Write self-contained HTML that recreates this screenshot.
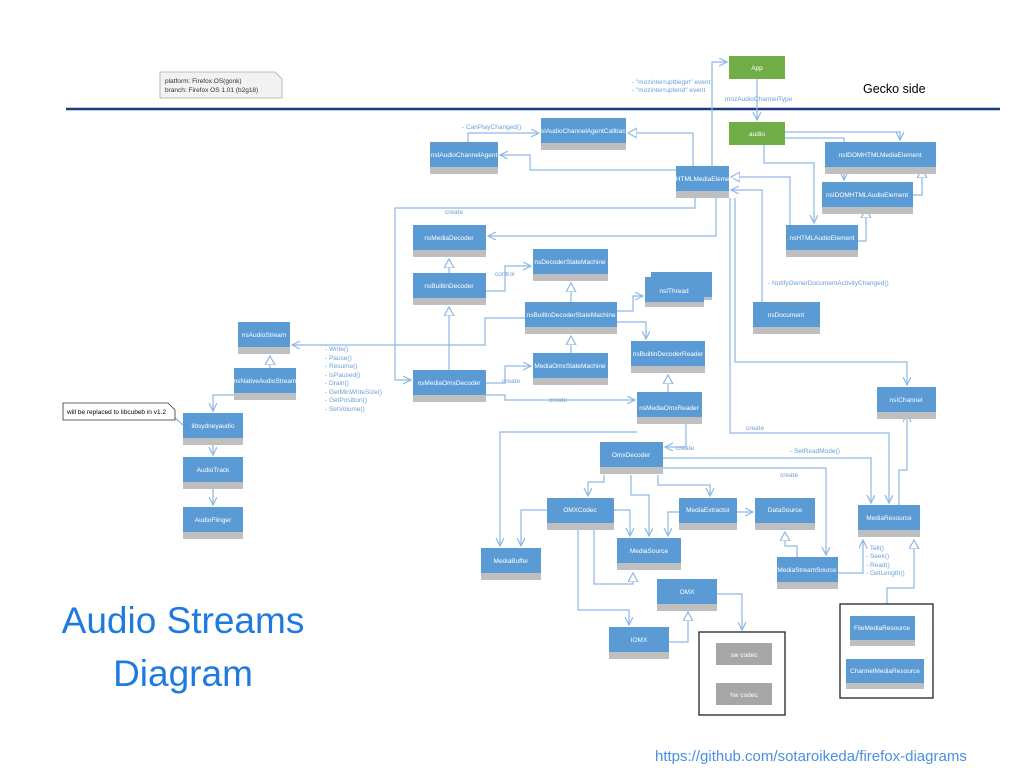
<!DOCTYPE html>
<html><head><meta charset="utf-8"><style>
body{margin:0;background:#fff;}
svg{display:block;font-family:"Liberation Sans",sans-serif;}
.b{fill:#5b9bd5;}
.g{fill:#bfbfbf;}
.t{fill:#fff;font-size:6.5px;text-anchor:middle;}
.l{fill:none;stroke:#8db8e6;stroke-width:1.2;}
.lb{fill:#6a9fd8;font-size:6.5px;}
</style></head><body>
<svg width="1024" height="768" viewBox="0 0 1024 768">
<defs>
<marker id="a" markerWidth="10" markerHeight="10" refX="8" refY="4" orient="auto" markerUnits="userSpaceOnUse"><path d="M0,0 L8,4 L0,8" fill="none" stroke="#8db8e6" stroke-width="1.2"/></marker>
<marker id="h" markerWidth="12" markerHeight="12" refX="9" refY="5" orient="auto" markerUnits="userSpaceOnUse"><path d="M0,0 L9,5 L0,10 Z" fill="#fff" stroke="#8db8e6" stroke-width="1.2"/></marker>
</defs>
<!-- note -->
<path d="M160,72 H275 L282,79 V98 H160 Z" fill="#f2f2f2" stroke="#aaa" stroke-width="0.8"/>
<text x="165" y="83" font-size="6.5" fill="#333">platform: Firefox OS(gonk)</text>
<text x="165" y="92" font-size="6.5" fill="#333">branch: Firefox OS 1.01 (b2g18)</text>
<line x1="66" y1="109" x2="1000" y2="109" stroke="#1f3b80" stroke-width="2.5"/>
<text x="863" y="93" font-size="12.5" fill="#000">Gecko side</text>

<!-- connectors -->
<g class="l">
<polyline points="712,166 712,62 727,62" marker-end="url(#a)"/>
<polyline points="757,79 757,120" marker-end="url(#a)"/>
<polyline points="468,142 468,133 539,133" marker-end="url(#a)"/>
<polyline points="693,166 693,133 628,133" marker-end="url(#h)"/>
<polyline points="676,170 530,170 530,155 500,155" marker-end="url(#a)"/>
<polyline points="785,132 900,132 900,140" marker-end="url(#a)"/>
<polyline points="785,138 844,138 844,180" marker-end="url(#a)"/>
<polyline points="764,145 764,163 814,163 814,223" marker-end="url(#a)"/>
<polyline points="913,195 922,195 922,169" marker-end="url(#h)"/>
<polyline points="858,241 866,241 866,209" marker-end="url(#h)"/>
<polyline points="790,225 790,177 731,177" marker-end="url(#h)"/>
<polyline points="762,302 762,190 731,190" marker-end="url(#a)"/>
<polyline points="735,198 735,362 907,362 907,385" marker-end="url(#a)"/>
<polyline points="730,198 730,433 889,433 889,503" marker-end="url(#a)"/>
<polyline points="716,198 716,236 488,236" marker-end="url(#a)"/>
<polyline points="695,198 695,208 395,208 395,380 411,380" marker-end="url(#a)"/>
<polyline points="449,273 449,259" marker-end="url(#h)"/>
<polyline points="449,370 449,307" marker-end="url(#h)"/>
<polyline points="486,291 505,291 505,266 531,266" marker-end="url(#a)"/>
<polyline points="571,302 571,283" marker-end="url(#h)"/>
<polyline points="571,353 571,336" marker-end="url(#h)"/>
<polyline points="617,311 633,311 633,296 643,296" marker-end="url(#a)"/>
<polyline points="617,322 646,322 646,339" marker-end="url(#a)"/>
<polyline points="668,392 668,375" marker-end="url(#h)"/>
<polyline points="525,318 485,318 485,345 292,345" marker-end="url(#a)"/>
<polyline points="486,383 505,383 505,366 531,366" marker-end="url(#a)"/>
<polyline points="486,395 505,395 505,400 635,400" marker-end="url(#a)"/>
<polyline points="270,368 270,356" marker-end="url(#h)"/>
<polyline points="234,395 213,395 213,411" marker-end="url(#a)"/>
<polyline points="213,445 213,455" marker-end="url(#a)"/>
<polyline points="213,489 213,505" marker-end="url(#a)"/>
<polyline points="175,418 183,425"/>
<polyline points="637,432 500,432 500,546" marker-end="url(#a)"/>
<polyline points="686,424 686,447 665,447" marker-end="url(#a)"/>
<polyline points="663,458 871,458 871,503" marker-end="url(#a)"/>
<polyline points="663,468 826,468 826,555" marker-end="url(#a)"/>
<polyline points="899,505 899,470 907,470 907,414" marker-end="url(#a)"/>
<polyline points="604,475 604,482 588,482 588,496" marker-end="url(#a)"/>
<polyline points="631,475 631,495 649,495 649,536" marker-end="url(#a)"/>
<polyline points="658,475 658,485 710,485 710,496" marker-end="url(#a)"/>
<polyline points="547,510 521,510 521,546" marker-end="url(#a)"/>
<polyline points="614,510 630,510 630,536" marker-end="url(#a)"/>
<polyline points="679,512 668,512 668,536" marker-end="url(#a)"/>
<polyline points="737,512 753,512" marker-end="url(#a)"/>
<polyline points="594,530 594,584 633,584 633,573" marker-end="url(#h)"/>
<polyline points="578,530 578,610 629,610 629,625" marker-end="url(#a)"/>
<polyline points="669,642 688,642 688,612" marker-end="url(#h)"/>
<polyline points="717,594 742,594 742,630" marker-end="url(#a)"/>
<polyline points="797,557 797,546 785,546 785,532" marker-end="url(#h)"/>
<polyline points="838,573 863,573 863,540" marker-end="url(#a)"/>
<polyline points="887,604 887,588 914,588 914,540" marker-end="url(#h)"/>
</g>

<!-- labels -->
<g class="lb">
<text x="632" y="84">- "mozinterruptbegin" event</text>
<text x="632" y="92">- "mozinterruptend" event</text>
<text x="725" y="101">mozAudioChannelType</text>
<text x="462" y="129">- CanPlayChanged()</text>
<text x="445" y="214">create</text>
<text x="495" y="276">control</text>
<text x="768" y="285">- NotifyOwnerDocumentActivityChanged()</text>
<text x="502" y="383">create</text>
<text x="549" y="402">create</text>
<text x="676" y="450">create</text>
<text x="746" y="430">create</text>
<text x="790" y="453">- SetReadMode()</text>
<text x="780" y="477">create</text>
<text x="325" y="351">- Write()</text>
<text x="325" y="360">- Pause()</text>
<text x="325" y="368">- Resume()</text>
<text x="325" y="377">- IsPaused()</text>
<text x="325" y="385">- Drain()</text>
<text x="325" y="394">- GetMinWriteSize()</text>
<text x="325" y="402">- GetPosition()</text>
<text x="325" y="411">- SetVolume()</text>
<text x="866" y="550">- Tell()</text>
<text x="866" y="558">- Seek()</text>
<text x="866" y="567">- Read()</text>
<text x="866" y="575">- GetLength()</text>
</g>

<!-- note2 -->
<path d="M63,403 H168 L175,410 V420 H63 Z" fill="#fff" stroke="#333" stroke-width="0.8"/>
<text x="67" y="414" font-size="6.5" fill="#000">will be replaced to libcubeb in v1.2</text>

<!-- green -->
<rect x="729" y="56" width="56" height="23" fill="#70ad47"/><text class="t" x="757" y="70">App</text>
<rect x="729" y="122" width="56" height="23" fill="#70ad47"/><text class="t" x="757" y="136">audio</text>

<!-- boxes -->
<g>
<rect class="g" x="651" y="280" width="61" height="20"/><rect class="b" x="651" y="272" width="61" height="25"/>
</g>
<g id="boxes">
<rect class="b" x="541" y="118" width="85" height="25"/><rect class="g" x="541" y="143" width="85" height="7"/><text class="t" x="583" y="133">nsIAudioChannelAgentCallback</text>
<rect class="b" x="430" y="142" width="68" height="25"/><rect class="g" x="430" y="167" width="68" height="7"/><text class="t" x="464" y="157">nsIAudioChannelAgent</text>
<rect class="b" x="676" y="166" width="53" height="25"/><rect class="g" x="676" y="191" width="53" height="7"/><text class="t" x="702" y="181">nsHTMLMediaElement</text>
<rect class="b" x="825" y="142" width="111" height="25"/><rect class="g" x="825" y="167" width="111" height="7"/><text class="t" x="880" y="157">nsIDOMHTMLMediaElement</text>
<rect class="b" x="822" y="182" width="91" height="25"/><rect class="g" x="822" y="207" width="91" height="7"/><text class="t" x="867" y="197">nsIDOMHTMLAudioElement</text>
<rect class="b" x="786" y="225" width="72" height="25"/><rect class="g" x="786" y="250" width="72" height="7"/><text class="t" x="822" y="240">nsHTMLAudioElement</text>
<rect class="b" x="413" y="225" width="73" height="25"/><rect class="g" x="413" y="250" width="73" height="7"/><text class="t" x="449" y="240">nsMediaDecoder</text>
<rect class="b" x="533" y="249" width="75" height="25"/><rect class="g" x="533" y="274" width="75" height="7"/><text class="t" x="570" y="264">nsDecoderStateMachine</text>
<rect class="b" x="413" y="273" width="73" height="25"/><rect class="g" x="413" y="298" width="73" height="7"/><text class="t" x="449" y="288">nsBuiltinDecoder</text>
<rect class="b" x="645" y="277" width="59" height="25"/><rect class="g" x="645" y="302" width="59" height="5"/><text class="t" x="674" y="293">nsIThread</text>
<rect class="b" x="525" y="302" width="92" height="25"/><rect class="g" x="525" y="327" width="92" height="7"/><text class="t" x="571" y="317">nsBuiltinDecoderStateMachine</text>
<rect class="b" x="753" y="302" width="67" height="25"/><rect class="g" x="753" y="327" width="67" height="7"/><text class="t" x="786" y="317">nsDocument</text>
<rect class="b" x="238" y="322" width="52" height="25"/><rect class="g" x="238" y="347" width="52" height="7"/><text class="t" x="264" y="337">nsAudioStream</text>
<rect class="b" x="631" y="341" width="74" height="25"/><rect class="g" x="631" y="366" width="74" height="7"/><text class="t" x="668" y="356">nsBuiltinDecoderReader</text>
<rect class="b" x="234" y="368" width="62" height="25"/><rect class="g" x="234" y="393" width="62" height="7"/><text class="t" x="265" y="383">nsNativeAudioStream</text>
<rect class="b" x="533" y="353" width="75" height="25"/><rect class="g" x="533" y="378" width="75" height="7"/><text class="t" x="570" y="368">MediaOmxStateMachine</text>
<rect class="b" x="413" y="370" width="73" height="25"/><rect class="g" x="413" y="395" width="73" height="7"/><text class="t" x="449" y="385">nsMediaOmxDecoder</text>
<rect class="b" x="637" y="392" width="65" height="25"/><rect class="g" x="637" y="417" width="65" height="7"/><text class="t" x="669" y="410">nsMediaOmxReader</text>
<rect class="b" x="877" y="387" width="59" height="25"/><rect class="g" x="877" y="412" width="59" height="7"/><text class="t" x="906" y="402">nsIChannel</text>
<rect class="b" x="183" y="413" width="60" height="25"/><rect class="g" x="183" y="438" width="60" height="7"/><text class="t" x="213" y="428">libsydneyaudio</text>
<rect class="b" x="600" y="442" width="63" height="25"/><rect class="g" x="600" y="467" width="63" height="7"/><text class="t" x="631" y="457">OmxDecoder</text>
<rect class="b" x="183" y="457" width="60" height="25"/><rect class="g" x="183" y="482" width="60" height="7"/><text class="t" x="213" y="472">AudioTrack</text>
<rect class="b" x="547" y="498" width="67" height="25"/><rect class="g" x="547" y="523" width="67" height="7"/><text class="t" x="580" y="512">OMXCodec</text>
<rect class="b" x="679" y="498" width="58" height="25"/><rect class="g" x="679" y="523" width="58" height="7"/><text class="t" x="708" y="512">MediaExtractor</text>
<rect class="b" x="755" y="498" width="60" height="25"/><rect class="g" x="755" y="523" width="60" height="7"/><text class="t" x="785" y="512">DataSource</text>
<rect class="b" x="858" y="505" width="62" height="25"/><rect class="g" x="858" y="530" width="62" height="7"/><text class="t" x="889" y="520">MediaResource</text>
<rect class="b" x="183" y="507" width="60" height="25"/><rect class="g" x="183" y="532" width="60" height="7"/><text class="t" x="213" y="522">AudioFlinger</text>
<rect class="b" x="617" y="538" width="64" height="25"/><rect class="g" x="617" y="563" width="64" height="7"/><text class="t" x="649" y="553">MediaSource</text>
<rect class="b" x="481" y="548" width="60" height="25"/><rect class="g" x="481" y="573" width="60" height="7"/><text class="t" x="511" y="563">MediaBuffer</text>
<rect class="b" x="777" y="557" width="61" height="25"/><rect class="g" x="777" y="582" width="61" height="7"/><text class="t" x="807" y="572">MediaStreamSource</text>
<rect class="b" x="657" y="579" width="60" height="25"/><rect class="g" x="657" y="604" width="60" height="7"/><text class="t" x="687" y="594">OMX</text>
<rect class="b" x="609" y="627" width="60" height="25"/><rect class="g" x="609" y="652" width="60" height="7"/><text class="t" x="639" y="642">IOMX</text>
</g>

<rect x="699" y="632" width="86" height="83" fill="none" stroke="#222" stroke-width="1.3"/>
<rect x="716" y="643" width="56" height="22" fill="#a6a6a6"/><text class="t" x="744" y="657">sw codec</text>
<rect x="716" y="683" width="56" height="22" fill="#a6a6a6"/><text class="t" x="744" y="697">hw codec</text>
<rect x="840" y="604" width="93" height="94" fill="none" stroke="#222" stroke-width="1.3"/>
<rect class="b" x="850" y="616" width="65" height="24"/><rect class="g" x="850" y="640" width="65" height="6"/><text class="t" x="882" y="630">FileMediaResource</text>
<rect class="b" x="846" y="659" width="78" height="24"/><rect class="g" x="846" y="683" width="78" height="6"/><text class="t" x="885" y="673">ChannelMediaResource</text>

<text x="183" y="633" font-size="37" fill="#1f7ae0" text-anchor="middle">Audio Streams</text>
<text x="183" y="686" font-size="37" fill="#1f7ae0" text-anchor="middle">Diagram</text>
<text x="655" y="761" font-size="15" fill="#4a90e2">https://github.com/sotaroikeda/firefox-diagrams</text>
</svg>
</body></html>
